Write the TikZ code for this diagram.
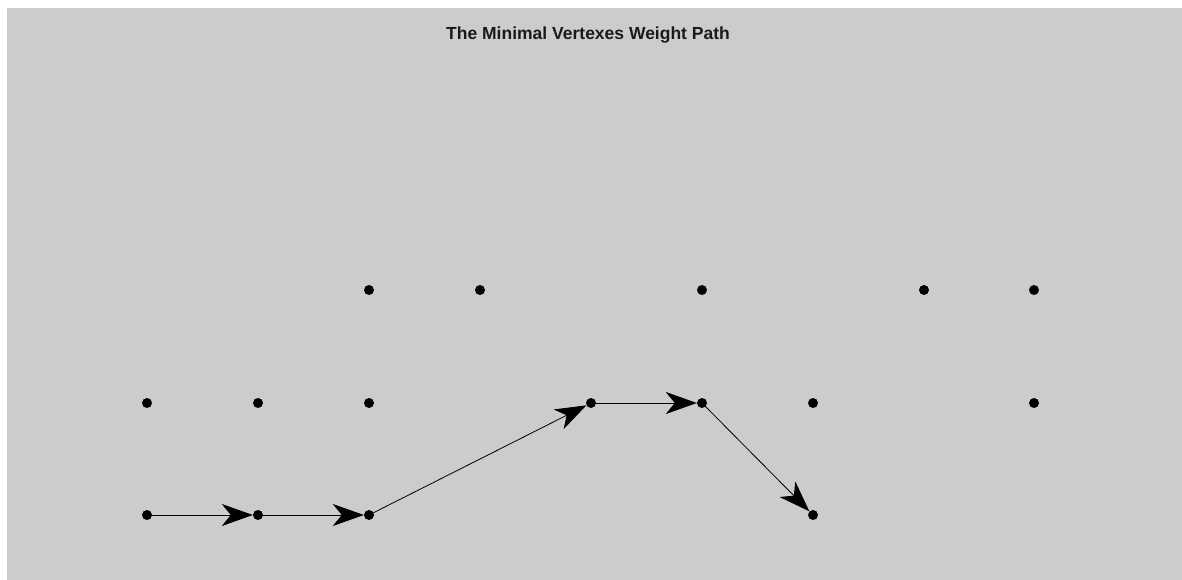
\documentclass[tikz,border=0pt]{standalone}
\usepackage{fontspec}
\setmainfont{Liberation Sans}
\usetikzlibrary{arrows.meta}
\definecolor{bggray}{HTML}{CCCCCC}
\definecolor{titlecol}{HTML}{1A1A1A}
\tikzset{
  vtx/.style={circle, fill=black, inner sep=0pt, minimum size=10pt},
  pathedge/.style={draw=black, line width=0.8pt, -{Stealth[length=31pt, width=22pt, inset=9pt]}},
  titlestyle/.style={font=\bfseries\fontsize{17.5}{19}\selectfont, text=titlecol}
}
\begin{document}
\begin{tikzpicture}[x=1pt, y=-1pt]
\useasboundingbox (0,0) rectangle (1182,580);
\fill[white] (0,0) rectangle (1182,580);
\fill[bggray] (7,8) rectangle (1182,580);
\node[titlestyle] (title) at (588,35) {The Minimal Vertexes Weight Path};
% row 1 (y=290)
\node[vtx] (a3) at (369,290) {};
\node[vtx] (a4) at (480,290) {};
\node[vtx] (a6) at (702,290) {};
\node[vtx] (a8) at (924,290) {};
\node[vtx] (a9) at (1034,290) {};
% row 2 (y=403)
\node[vtx] (b1) at (147,403) {};
\node[vtx] (b2) at (258,403) {};
\node[vtx] (b3) at (369,403) {};
\node[vtx] (b5) at (591,403) {};
\node[vtx] (b6) at (702,403) {};
\node[vtx] (b7) at (813,403) {};
\node[vtx] (b9) at (1034,403) {};
% row 3 (y=515)
\node[vtx] (c1) at (147,515) {};
\node[vtx] (c2) at (258,515) {};
\node[vtx] (c3) at (369,515) {};
\node[vtx] (c7) at (813,515) {};
% path
\draw[pathedge] (c1.center) -- (c2);
\draw[pathedge] (c2.center) -- (c3);
\draw[pathedge] (c3.center) -- (b5);
\draw[pathedge] (b5.center) -- (b6);
\draw[pathedge] (b6.center) -- (c7);
\end{tikzpicture}
\end{document}
